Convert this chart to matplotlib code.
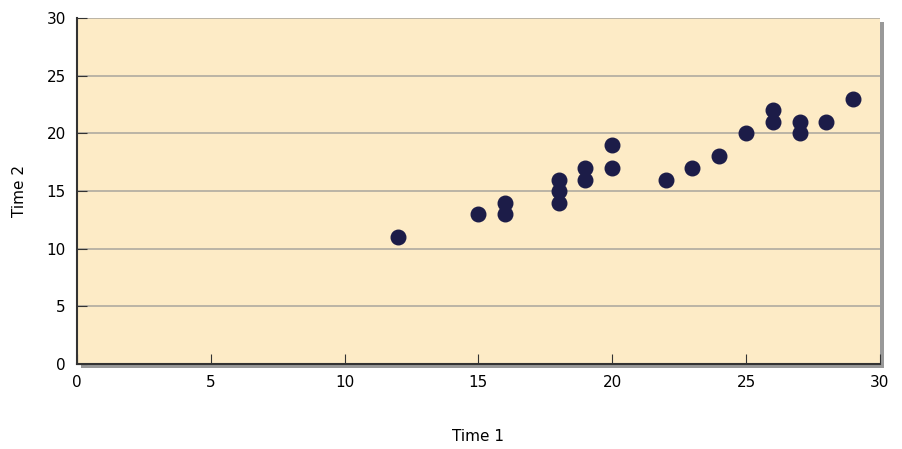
import matplotlib
matplotlib.use("Agg")
import matplotlib.pyplot as plt
import matplotlib.patheffects as pe

time1 = [12, 15, 16, 16, 18, 18, 18, 19, 19, 20, 20, 22, 23, 24, 25, 26, 26, 27, 27, 28, 29]
time2 = [11, 13, 14, 13, 16, 15, 14, 17, 16, 19, 17, 16, 17, 18, 20, 22, 21, 21, 20, 21, 23]
ticks = [0, 5, 10, 15, 20, 25, 30]

fig = plt.figure(figsize=(9.02, 4.49), dpi=100)
ax = fig.add_axes([0.0854, 0.189, 0.89, 0.771])
ax.set_facecolor("#fdebc6")
ax.patch.set_path_effects([pe.SimplePatchShadow(offset=(3, -3), shadow_rgbFace="#555555", alpha=0.6), pe.Normal()])
ax.scatter(time1, time2, s=110, color="#1c1c48", zorder=3)
ax.set_xlim(0, 30)
ax.set_ylim(0, 30)
ax.set_xticks(ticks)
ax.set_yticks(ticks)
ax.yaxis.grid(True, color="#b0aba0", lw=1.2)
ax.set_axisbelow(True)
for s in ["top", "right"]:
    ax.spines[s].set_visible(False)
for s in ["left", "bottom"]:
    ax.spines[s].set_color("#333333")
    ax.spines[s].set_linewidth(1.5)
ax.tick_params(direction="in", length=7, color="#333333", labelsize=11, pad=8)
ax.set_xlabel("Time 1", fontsize=11, labelpad=28)
ax.set_ylabel("Time 2", fontsize=11, labelpad=14)
fig.savefig("out.png", dpi=100)
